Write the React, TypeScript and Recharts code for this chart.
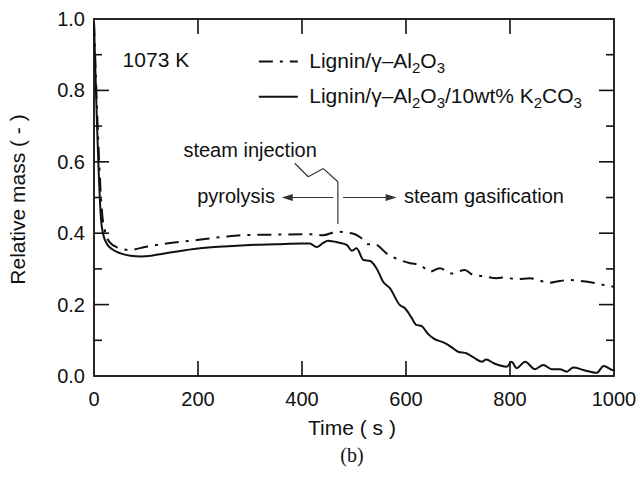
import { LineChart, Line, XAxis, YAxis, ReferenceLine, ReferenceDot } from "recharts";

// Lignin/γ-Al2O3 (dash-dot)
const ALUMINA_TIME = [0, 16, 22, 30, 45, 69, 100, 150, 198, 250, 294, 350, 421, 440, 467, 485, 502, 515, 527, 540, 563, 588, 608, 627, 646, 665, 688, 713, 729, 748, 774, 790, 813, 838, 854, 874, 896, 912, 935, 960, 980, 1000];
const ALUMINA_MASS = [0.99, 0.45, 0.4, 0.375, 0.36, 0.353, 0.362, 0.373, 0.381, 0.39, 0.395, 0.396, 0.397, 0.394, 0.404, 0.402, 0.397, 0.385, 0.369, 0.369, 0.343, 0.325, 0.316, 0.311, 0.292, 0.302, 0.287, 0.297, 0.283, 0.28, 0.274, 0.276, 0.271, 0.274, 0.269, 0.261, 0.266, 0.269, 0.266, 0.261, 0.255, 0.25];

// Lignin/γ-Al2O3/10wt% K2CO3 (solid)
const K2CO3_TIME = [0, 14, 18, 25, 35, 50, 70, 90, 110, 130, 160, 200, 250, 300, 350, 400, 415, 428, 440, 450, 470, 486, 496, 505, 518, 531, 544, 556, 569, 588, 598, 610, 620, 630, 641, 652, 675, 690, 700, 717, 730, 746, 754, 770, 794, 803, 813, 829, 848, 864, 880, 896, 909, 922, 941, 967, 980, 996, 1000];
const K2CO3_MASS = [0.99, 0.43, 0.395, 0.37, 0.355, 0.344, 0.337, 0.335, 0.337, 0.342, 0.349, 0.357, 0.363, 0.367, 0.369, 0.371, 0.371, 0.361, 0.372, 0.379, 0.374, 0.367, 0.351, 0.358, 0.325, 0.322, 0.3, 0.264, 0.246, 0.199, 0.19, 0.165, 0.143, 0.14, 0.12, 0.106, 0.092, 0.078, 0.068, 0.063, 0.052, 0.04, 0.046, 0.035, 0.026, 0.04, 0.022, 0.04, 0.019, 0.031, 0.019, 0.019, 0.012, 0.024, 0.017, 0.009, 0.028, 0.017, 0.015];

const X_TICKS = [0, 200, 400, 600, 800, 1000];
const Y_TICKS = [0, 0.1, 0.2, 0.3, 0.4, 0.5, 0.6, 0.7, 0.8, 0.9, 1.0];
const X_DOMAIN = [0, 1000];
const Y_DOMAIN = [0, 1];

// steam injection marker (time, mass)
const INJECTION_TIME = 469;
const INJECTION_SPAN = [0.426, 0.544];
const LEADER = [
  { x: 386, y: 0.596 },
  { x: 412, y: 0.558 },
  { x: 441, y: 0.581 },
  { x: 469, y: 0.544 },
];
const ARROW_LEVEL = 0.5;
const PYROLYSIS_ARROW = [460, 361];
const GASIFICATION_ARROW = [479, 582];

type Piece = string | { sub: string };
const ALUMINA_LABEL: Piece[] = ["Lignin/γ–Al", { sub: "2" }, "O", { sub: "3" }];
const K2CO3_LABEL: Piece[] = ["Lignin/γ–Al", { sub: "2" }, "O", { sub: "3" }, "/10wt% K", { sub: "2" }, "CO", { sub: "3" }];

const DASH_DOT = "14 7 3 7";

// legend rows placed in the plot's (time, mass) space
const LEGEND_SAMPLE = [317, 392];
const LEGEND_TEXT_TIME = 414;
const LEGEND_ROWS = [
  { line: 0.881, text: 0.862, dash: DASH_DOT, label: ALUMINA_LABEL },
  { line: 0.782, text: 0.764, dash: undefined, label: K2CO3_LABEL },
];

// chart layout
const WIDTH = 640;
const HEIGHT = 480;
const MARGIN = { top: 19, right: 26, bottom: 0, left: 0 };
const Y_AXIS_WIDTH = 94;
const X_AXIS_HEIGHT = 104;

const FONT = '"Liberation Sans", Arial, Helvetica, sans-serif';
const INK = "#111";

const aluminaData = ALUMINA_TIME.map((t, i) => ({ time: t, mass: ALUMINA_MASS[i] }));
const k2co3Data = K2CO3_TIME.map((t, i) => ({ time: t, mass: K2CO3_MASS[i] }));

function isMajor(v: number) {
  return Math.round(v * 10) % 2 === 0;
}

function renderPieces(pieces: Piece[]) {
  let shifted = false;
  return pieces.map((p, i) => {
    if (typeof p === "string") {
      const dy = shifted ? -5 : 0;
      shifted = false;
      return (
        <tspan key={i} dy={dy}>
          {p}
        </tspan>
      );
    }
    const dy = shifted ? 0 : 5;
    shifted = true;
    return (
      <tspan key={i} dy={dy} fontSize={15}>
        {p.sub}
      </tspan>
    );
  });
}

function LeftTick({ x, y, payload }: any) {
  const v = payload.value;
  if (!isMajor(v)) return null;
  return (
    <text x={x - 9} y={y} dy="0.35em" textAnchor="end" fontSize={20} fontFamily={FONT} fill={INK}>
      {v.toFixed(1)}
    </text>
  );
}

function BottomTick({ x, y, payload }: any) {
  return (
    <text x={x} y={y + 30} textAnchor="middle" fontSize={20} fontFamily={FONT} fill={INK}>
      {payload.value}
    </text>
  );
}

function TimeTitle({ viewBox }: any) {
  const cx = viewBox.x + viewBox.width / 2;
  return (
    <g>
      <text x={cx - 2} y={viewBox.y + 59} textAnchor="middle" fontSize={21} fontFamily={FONT} fill={INK}>
        Time ( s )
      </text>
      <text x={cx - 2} y={viewBox.y + 86} textAnchor="middle" fontSize={20} fontFamily='"Liberation Serif", "Times New Roman", serif' fill={INK}>
        (b)
      </text>
    </g>
  );
}

function MassTitle({ viewBox }: any) {
  const x = viewBox.x + 18;
  const y = viewBox.y + viewBox.height / 2 + 2;
  return (
    <text x={x} y={y} dy="0.35em" transform={`rotate(-90, ${x}, ${y})`} textAnchor="middle" fontSize={21} fontFamily={FONT} fill={INK}>
      Relative mass ( - )
    </text>
  );
}

function textMark(label: string | Piece[], anchor: "start" | "end" | "middle", size: number) {
  return ({ cx, cy }: any) => (
    <text x={cx} y={cy} textAnchor={anchor} fontSize={size} fontFamily={FONT} fill={INK}>
      {typeof label === "string" ? label : renderPieces(label)}
    </text>
  );
}

function arrowHead(dir: number) {
  return ({ cx, cy }: any) => (
    <polygon points={`${cx},${cy} ${cx - dir * 11},${cy - 3.5} ${cx - dir * 11},${cy + 3.5}`} fill="#333" />
  );
}

// box with inward ticks on all four sides, laid over the plot area
function PlotFrame() {
  const left = MARGIN.left + Y_AXIS_WIDTH;
  const top = MARGIN.top;
  const right = WIDTH - MARGIN.right;
  const bottom = HEIGHT - MARGIN.bottom - X_AXIS_HEIGHT;
  const sx = (t: number) => left + ((t - X_DOMAIN[0]) / (X_DOMAIN[1] - X_DOMAIN[0])) * (right - left);
  const sy = (v: number) => bottom - ((v - Y_DOMAIN[0]) / (Y_DOMAIN[1] - Y_DOMAIN[0])) * (bottom - top);
  return (
    <svg width={WIDTH} height={HEIGHT} style={{ position: "absolute", left: 0, top: 0, pointerEvents: "none" }}>
      <rect x={left} y={top} width={right - left} height={bottom - top} fill="none" stroke={INK} strokeWidth={1.8} />
      {Y_TICKS.slice(1, -1).map((v) => {
        const len = isMajor(v) ? 15 : 8;
        return (
          <g key={`y${v}`}>
            <line x1={left} x2={left + len} y1={sy(v)} y2={sy(v)} stroke={INK} strokeWidth={1.6} />
            <line x1={right} x2={right - len} y1={sy(v)} y2={sy(v)} stroke={INK} strokeWidth={1.6} />
          </g>
        );
      })}
      {X_TICKS.slice(1, -1).map((t) => (
        <g key={`x${t}`}>
          <line x1={sx(t)} x2={sx(t)} y1={bottom} y2={bottom - 15} stroke={INK} strokeWidth={1.6} />
          <line x1={sx(t)} x2={sx(t)} y1={top} y2={top + 15} stroke={INK} strokeWidth={1.6} />
        </g>
      ))}
    </svg>
  );
}

export default function App() {
  const guide = { stroke: "#333", strokeWidth: 1.2 };
  return (
    <div style={{ position: "absolute", left: 0, top: 0, width: WIDTH, height: HEIGHT, background: "#fff" }}>
      <LineChart width={WIDTH} height={HEIGHT} margin={MARGIN}>
        <XAxis
          dataKey="time"
          type="number"
          domain={X_DOMAIN}
          ticks={X_TICKS}
          interval={0}
          height={X_AXIS_HEIGHT}
          tickSize={0}
          tickMargin={0}
          tickLine={false}
          tick={<BottomTick />}
          axisLine={false}
          label={{ content: TimeTitle }}
        />
        <YAxis
          type="number"
          domain={Y_DOMAIN}
          ticks={Y_TICKS}
          interval={0}
          width={Y_AXIS_WIDTH}
          tickSize={0}
          tickMargin={0}
          tickLine={false}
          tick={<LeftTick />}
          axisLine={false}
          label={{ content: MassTitle }}
        />

        {/* legend */}
        {LEGEND_ROWS.map((row, i) => (
          <ReferenceLine
            key={`legend-line-${i}`}
            segment={[
              { x: LEGEND_SAMPLE[0], y: row.line },
              { x: LEGEND_SAMPLE[1], y: row.line },
            ]}
            stroke={INK}
            strokeWidth={2}
            strokeDasharray={row.dash}
          />
        ))}
        {LEGEND_ROWS.map((row, i) => (
          <ReferenceDot key={`legend-text-${i}`} x={LEGEND_TEXT_TIME} y={row.text} r={0} shape={textMark(row.label, "start", 21)} />
        ))}

        {/* steam injection annotation */}
        {LEADER.slice(1).map((p, i) => (
          <ReferenceLine key={`leader-${i}`} segment={[LEADER[i], p]} {...guide} />
        ))}
        <ReferenceLine
          segment={[
            { x: INJECTION_TIME, y: INJECTION_SPAN[0] },
            { x: INJECTION_TIME, y: INJECTION_SPAN[1] },
          ]}
          {...guide}
        />
        <ReferenceLine
          segment={[
            { x: PYROLYSIS_ARROW[0], y: ARROW_LEVEL },
            { x: PYROLYSIS_ARROW[1] + 8, y: ARROW_LEVEL },
          ]}
          {...guide}
        />
        <ReferenceLine
          segment={[
            { x: GASIFICATION_ARROW[0], y: ARROW_LEVEL },
            { x: GASIFICATION_ARROW[1] - 8, y: ARROW_LEVEL },
          ]}
          {...guide}
        />
        <ReferenceDot x={PYROLYSIS_ARROW[1]} y={ARROW_LEVEL} r={0} shape={arrowHead(-1)} />
        <ReferenceDot x={GASIFICATION_ARROW[1]} y={ARROW_LEVEL} r={0} shape={arrowHead(1)} />

        <ReferenceDot x={55} y={0.865} r={0} shape={textMark("1073 K", "start", 21)} />
        <ReferenceDot x={172} y={0.614} r={0} shape={textMark("steam injection", "start", 20)} />
        <ReferenceDot x={348} y={0.485} r={0} shape={textMark("pyrolysis", "end", 20)} />
        <ReferenceDot x={596} y={0.485} r={0} shape={textMark("steam gasification", "start", 20)} />

        <Line
          data={aluminaData}
          dataKey="mass"
          type="monotone"
          stroke={INK}
          strokeWidth={2}
          strokeDasharray={DASH_DOT}
          dot={false}
          activeDot={false}
          isAnimationActive={false}
        />
        <Line
          data={k2co3Data}
          dataKey="mass"
          type="monotone"
          stroke={INK}
          strokeWidth={2}
          dot={false}
          activeDot={false}
          isAnimationActive={false}
        />
      </LineChart>
      <PlotFrame />
    </div>
  );
}
